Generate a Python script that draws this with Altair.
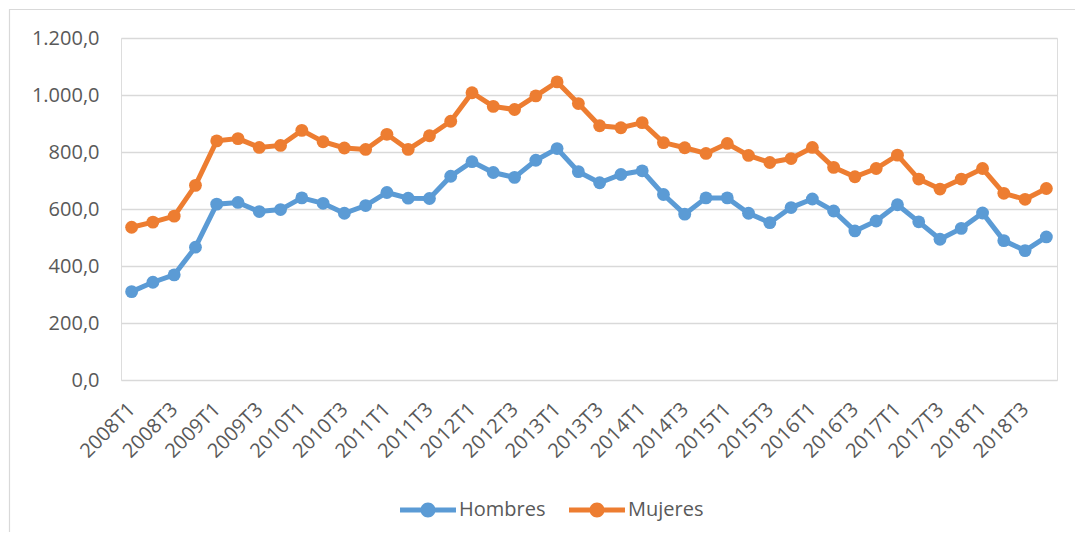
import altair as alt
import pandas as pd

quarters = [f"{y}T{q}" for y in range(2008, 2019) for q in range(1, 5)]
label_quarters = [f"{y}T{q}" for y in range(2008, 2019) for q in (1, 3)]

hombres = [310, 343, 369, 466, 617, 623, 591, 598, 639, 620, 585, 612,
           658, 638, 637, 715, 766, 728, 711, 771, 812, 731, 692, 721,
           734, 651, 582, 639, 639, 585, 552, 605, 635, 593, 523, 558,
           615, 555, 494, 532, 586, 489, 454, 502]
mujeres = [536, 554, 575, 683, 839, 847, 816, 823, 876, 836, 814, 809,
           862, 809, 857, 908, 1008, 960, 949, 997, 1046, 970, 892, 885,
           903, 833, 815, 795, 830, 788, 763, 777, 816, 746, 713, 742,
           789, 705, 670, 705, 742, 655, 634, 672]

series_names = ["Hombres", "Mujeres"]
series_colors = ["#5B9BD5", "#ED7D31"]

rows = []
for i, q in enumerate(quarters):
    rows.append({"Trimestre": q, "Serie": "Hombres", "Valor": hombres[i], "orden": 0})
    rows.append({"Trimestre": q, "Serie": "Mujeres", "Valor": mujeres[i], "orden": 1})
df = pd.DataFrame(rows)

FONT = "Open Sans"
TEXT = "#595959"
FS = 20
W, H = 936, 342
PAD = {"left": 113, "top": 30, "right": 18, "bottom": 152}

x_enc = alt.X("Trimestre:N", sort=quarters,
              scale=alt.Scale(type="point", padding=0.5),
              axis=alt.Axis(values=label_quarters, title=None, ticks=False, domain=False,
                            labelAngle=-45, labelAlign="right", labelBaseline="middle",
                            labelPadding=26, labelFont=FONT, labelFontSize=FS,
                            labelColor=TEXT, grid=False))
y_enc = alt.Y("Valor:Q", scale=alt.Scale(domain=[0, 1200], nice=False),
              axis=alt.Axis(values=[0, 200, 400, 600, 800, 1000, 1200], title=None,
                            ticks=False, domain=False, labelPadding=22,
                            labelFont=FONT, labelFontSize=FS, labelColor=TEXT,
                            gridColor="#D9D9D9", gridWidth=1.3,
                            labelExpr="replace(replace(replace(format(datum.value, ',.1f'), ',', '#'), '.', ','), '#', '.')"))
color_scale = alt.Scale(domain=series_names, range=series_colors)

sym_path = ("M-3.73,-0.32 L3.73,-0.32 L3.73,0.32 L-3.73,0.32 Z "
            "M-1,0 A1,1 0 1,1 1,0 A1,1 0 1,1 -1,0 Z")

legend = alt.Legend(title=None, orient="none", direction="horizontal",
                    legendX=297, legendY=462, padding=0,
                    symbolType=sym_path, symbolSize=225,
                    symbolStrokeWidth=0, symbolOpacity=1, symbolFillColor=None,
                    labelOffset=21, columnPadding=23,
                    labelFont=FONT, labelFontSize=FS, labelColor=TEXT)

color_enc = alt.Color("Serie:N", scale=color_scale, legend=legend)

base = alt.Chart(df)
lines = base.mark_line(strokeWidth=5).encode(
    x=x_enc, y=y_enc, color=color_enc,
    order=alt.Order("orden:Q"),
    detail="Serie:N",
)
points = base.mark_point(filled=True, size=165, opacity=1).encode(
    x=x_enc, y=y_enc, color=color_enc,
)

frame = alt.Chart(pd.DataFrame({"a": [0]})).mark_rect(
    fill=None, stroke="#D9D9D9", strokeWidth=1.2
).encode(
    x=alt.value(-PAD["left"] + 1.5), x2=alt.value(W + PAD["right"] + 40),
    y=alt.value(-PAD["top"] + 1.5), y2=alt.value(H + PAD["bottom"] + 40),
)

chart = alt.layer(frame, lines, points).properties(
    width=W, height=H,
    autosize=alt.AutoSizeParams(type="none"),
    padding=PAD,
).configure_view(stroke=None).configure(background="white")

chart.save("out.html", embed_options={"renderer": "svg", "actions": False})
